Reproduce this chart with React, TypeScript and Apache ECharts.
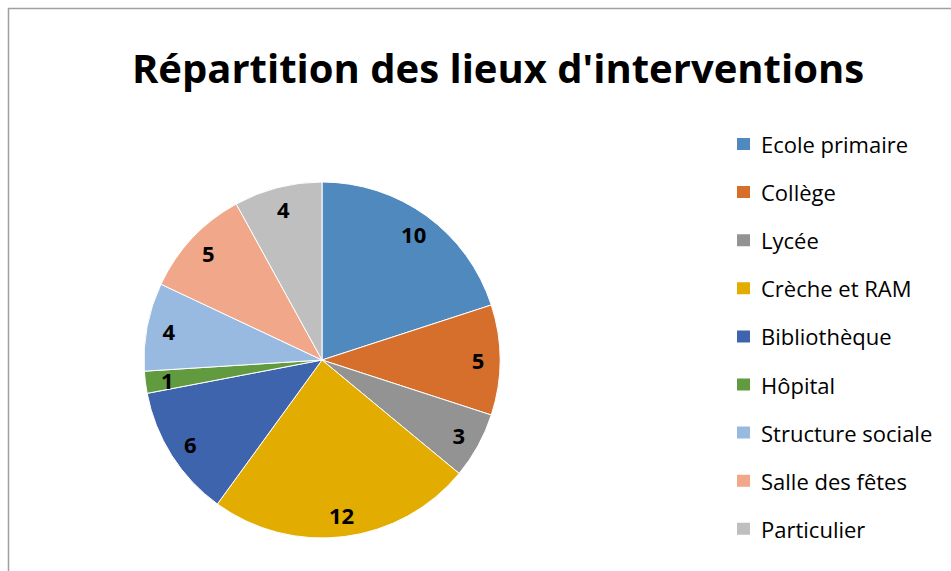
import React, { useEffect, useRef } from "react";
import * as echarts from "echarts";

const categories = [
  "Ecole primaire",
  "Collège",
  "Lycée",
  "Crèche et RAM",
  "Bibliothèque",
  "Hôpital",
  "Structure sociale",
  "Salle des fêtes",
  "Particulier",
];
const values = [10, 5, 3, 12, 6, 1, 4, 5, 4];
const colors = [
  "#4F89BD",
  "#D56F2B",
  "#939393",
  "#E2AC00",
  "#3D64AD",
  "#629A3F",
  "#98BAE0",
  "#F1A78A",
  "#BFBFBF",
];
const titleText = "Répartition des lieux d'interventions";

export default function App() {
  const ref = useRef<HTMLDivElement>(null);
  useEffect(() => {
    if (!ref.current) return;
    const chart = echarts.init(ref.current, undefined, { renderer: "svg" });
    const data = categories.map((name, i) => ({
      name,
      value: values[i],
      itemStyle: { color: colors[i] },
    }));
    const font = "'Open Sans', Lato, sans-serif";
    chart.setOption({
      animation: false,
      backgroundColor: "#ffffff",
      color: colors,
      title: {
        text: titleText,
        left: 498,
        top: 47,
        padding: 0,
        textAlign: "center",
        textStyle: {
          fontFamily: font,
          fontWeight: "bold",
          fontSize: 40,
          color: "#000000",
        },
      },
      legend: {
        orient: "vertical",
        left: 735,
        top: 133,
        padding: 0,
        itemWidth: 15,
        itemHeight: 14,
        itemGap: 26.1,
        icon: "rect",
        textStyle: {
          fontFamily: font,
          fontSize: 22,
          lineHeight: 22,
          color: "#000000",
          padding: [0, 0, 0, 5],
        },
        data: categories,
      },
      graphic: [
        {
          type: "rect",
          shape: { x: 8.5, y: 8.5, width: 960, height: 600 },
          style: { fill: "none", stroke: "#a0a0a0", lineWidth: 1.5 },
          silent: true,
        },
      ],
      series: [
        {
          type: "pie",
          center: [322, 360],
          radius: 178,
          startAngle: 90,
          clockwise: true,
          data,
          label: { show: false },
          labelLine: { show: false },
          itemStyle: { borderColor: "#ffffff", borderWidth: 1 },
          emphasis: { disabled: true },
        },
        {
          type: "pie",
          center: [322, 360],
          radius: [128, 178],
          startAngle: 90,
          clockwise: true,
          data: categories.map((name, i) => ({
            name,
            value: values[i],
            itemStyle: { color: "rgba(0,0,0,0)" },
          })),
          silent: true,
          label: {
            show: true,
            position: "inside",
            formatter: "{c}",
            fontFamily: font,
            fontWeight: "bold",
            fontSize: 22,
            color: "#000000",
          },
          labelLine: { show: false },
          emphasis: { disabled: true },
        },
      ],
    });
    return () => chart.dispose();
  }, []);
  return (
    <div
      ref={ref}
      style={{ position: "fixed", left: 0, top: 0, width: 951, height: 571 }}
    />
  );
}
